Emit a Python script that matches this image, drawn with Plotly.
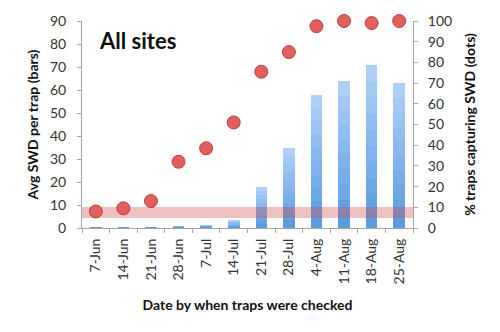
import plotly.graph_objects as go

dates = ["7-Jun", "14-Jun", "21-Jun", "28-Jun", "7-Jul", "14-Jul", "21-Jul",
         "28-Jul", "4-Aug", "11-Aug", "18-Aug", "25-Aug"]
avg_swd = [0.3, 0.3, 0.3, 0.8, 1.5, 3.5, 18, 35, 58, 64, 71, 63]
pct_traps = [8, 9.5, 13, 32, 38.5, 51, 75.5, 85, 97.5, 100, 99, 100]
band_low = 5
band_high = 10

fig = go.Figure()

# gradient bars: overlaid layers from light (full height) to darker (shorter)
light = (172, 208, 248)
dark = (84, 150, 222)
N = 10
for k in range(N):
    f = k / N
    c = tuple(int(light[i] + (dark[i] - light[i]) * f) for i in range(3))
    fig.add_trace(go.Bar(
        x=dates, y=[v * (1 - f) for v in avg_swd], yaxis="y",
        marker=dict(color="rgb(%d,%d,%d)" % c, line=dict(width=0)),
        width=0.42, showlegend=False, hoverinfo="skip" if k else None))

# red threshold band (on secondary axis, above bars, below dots)
fig.add_trace(go.Bar(
    x=dates, y=[band_high - band_low] * len(dates), base=[band_low] * len(dates),
    yaxis="y2", width=1.0,
    marker=dict(color="rgba(205,75,75,0.35)", line=dict(width=0)),
    showlegend=False, hoverinfo="skip"))

fig.add_trace(go.Scatter(
    x=dates, y=pct_traps, yaxis="y2", mode="markers",
    marker=dict(size=13, color="#e35f5b", line=dict(color="#b5403d", width=1)),
    cliponaxis=False, showlegend=False))

tickfont = dict(family="Lato, Open Sans, sans-serif", size=14, color="#333333")
titlefont = dict(family="Lato, Open Sans, sans-serif", size=14, color="#111111", weight="bold")

fig.update_layout(
    width=500, height=332,
    margin=dict(l=82, r=87, t=21, b=104),
    paper_bgcolor="white", plot_bgcolor="white",
    barmode="overlay",
    bargap=0,
    xaxis=dict(
        type="category", tickangle=-90, tickfont=tickfont,
        showline=True, linecolor="#a6a6a6", linewidth=1,
        ticks="outside", tickson="boundaries", ticklen=4, tickcolor="#a6a6a6",
        ticklabelstandoff=4,
        showgrid=False, range=[-0.5, 11.5],
        title=dict(text="Date by when traps were checked", font=titlefont, standoff=16),
    ),
    yaxis=dict(
        range=[0, 90], dtick=10, tickfont=tickfont,
        showline=True, linecolor="#a6a6a6", linewidth=1,
        ticks="outside", ticklen=4, tickcolor="#a6a6a6",
        ticklabelstandoff=8,
        showgrid=False, zeroline=False,
        title=dict(text="Avg SWD per trap (bars)", font=titlefont, standoff=8),
    ),
    yaxis2=dict(
        range=[0, 100], dtick=10, tickfont=tickfont, overlaying="y", side="right",
        showline=True, linecolor="#a6a6a6", linewidth=1,
        ticks="outside", ticklen=4, tickcolor="#a6a6a6",
        ticklabelstandoff=7,
        showgrid=False, zeroline=False,
        title=dict(text="% traps capturing SWD (dots)", font=titlefont, standoff=14),
    ),
    annotations=[dict(
        text="<b>All sites</b>", xref="paper", yref="paper", x=0.045, y=0.905,
        xanchor="left", yanchor="middle", showarrow=False,
        font=dict(family="Lato, Open Sans, sans-serif", size=22, color="#111111"))],
)

fig.write_html("out.html")
